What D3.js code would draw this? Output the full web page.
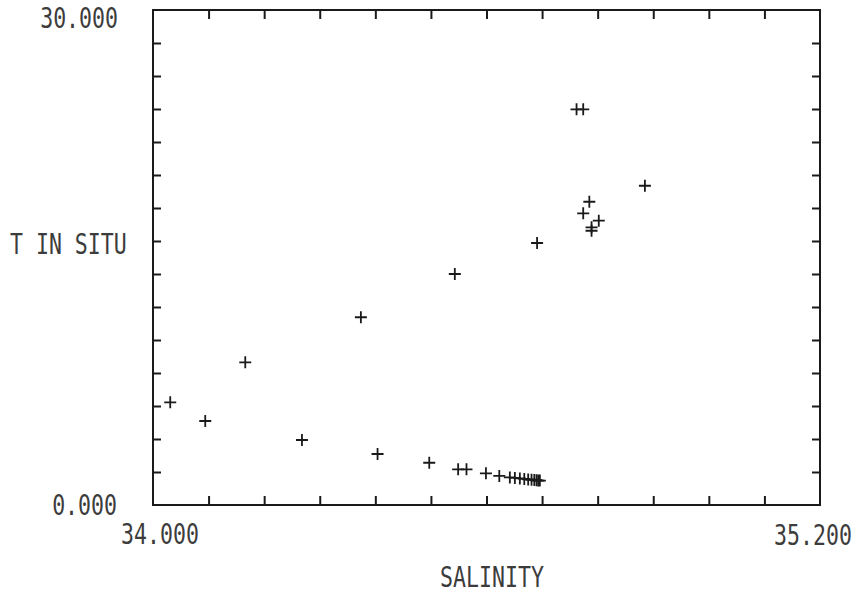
<!DOCTYPE html>
<html>
<head>
<meta charset="utf-8">
<script src="https://cdn.jsdelivr.net/npm/d3@7"></script>
<style>
  html, body { margin: 0; padding: 0; background: #fff; }
  svg { display: block; }
  .lbl { font-family: "DejaVu Sans Mono", "Liberation Mono", monospace; font-size: 28px; fill: #3c3c3c; font-weight: 300; }
</style>
</head>
<body>
<svg id="chart" width="862" height="597"></svg>
<script>
// ---- data ----
const salinity = [34.031, 34.094, 34.166, 34.268, 34.374, 34.404, 34.497, 34.543, 34.549, 34.564,
                  34.599, 34.623, 34.642, 34.651, 34.660, 34.668, 34.675, 34.681, 34.686, 34.690,
                  34.693, 34.696, 34.691, 34.762, 34.774, 34.774, 34.785, 34.802, 34.789, 34.789, 34.885];
const temperature = [6.22, 5.09, 8.65, 3.94, 11.38, 3.09, 2.56, 14.00, 2.16, 2.16,
                     1.92, 1.76, 1.67, 1.64, 1.61, 1.58, 1.55, 1.53, 1.52, 1.50,
                     1.48, 1.48, 15.88, 23.98, 23.98, 17.68, 18.38, 17.23, 16.83, 16.62, 19.35];
const xDomain = [34.0, 35.2];
const yDomain = [0, 30];
const xTickValues = d3.range(12).map(i => 34.0 + i * 0.1).slice(1);
const yTickValues = d3.range(15).map(i => i * 2).slice(1);
const xEndLabels = ["34.000", "35.200"];
const yEndLabels = ["0.000", "30.000"];
const xTitle = "SALINITY";
const yTitle = "T IN SITU";

// ---- layout ----
const svg = d3.select("#chart");
const L = 153, R = 820, T = 10, B = 505;
const x = d3.scaleLinear().domain(xDomain).range([L, R]);
const y = d3.scaleLinear().domain(yDomain).range([B, T]);
const ink = "#1a1a1a";

// ticks
const tk = 9;
svg.append("g").attr("transform", `translate(0,${B})`)
  .call(d3.axisBottom(x).tickValues(xTickValues).tickSize(-tk).tickFormat(""));
svg.append("g").attr("transform", `translate(0,${T})`)
  .call(d3.axisTop(x).tickValues(xTickValues).tickSize(-tk).tickFormat(""));
svg.append("g").attr("transform", `translate(${L},0)`)
  .call(d3.axisLeft(y).tickValues(yTickValues).tickSize(-tk + 1).tickFormat(""));
svg.append("g").attr("transform", `translate(${R},0)`)
  .call(d3.axisRight(y).tickValues(yTickValues).tickSize(-tk + 1).tickFormat(""));
svg.selectAll(".domain").remove();
svg.selectAll(".tick line").attr("stroke", ink).attr("stroke-width", 2);

// frame
svg.append("rect").attr("x", L).attr("y", T).attr("width", R - L).attr("height", B - T)
  .attr("fill", "none").attr("stroke", ink).attr("stroke-width", 2);

// markers
const ms = 6;
const pts = svg.append("g");
salinity.forEach((s, i) => {
  const cx = x(s), cy = y(temperature[i]);
  pts.append("path")
    .attr("d", `M${cx - ms},${cy}H${cx + ms}M${cx},${cy - ms}V${cy + ms}`)
    .attr("stroke", ink).attr("stroke-width", 1.8).attr("fill", "none");
});

// text helper (condensed plotter-like)
const sx = 0.77;
function label(str, px, py, anchor) {
  svg.append("text").attr("class", "lbl")
    .attr("transform", `translate(${px},${py}) scale(${sx},1)`)
    .attr("text-anchor", anchor).attr("dominant-baseline", "central")
    .text(str);
}
label(yEndLabels[0], L - 36, y(yDomain[0]), "end");
label(yEndLabels[1], L - 35, y(yDomain[1]) + 8, "end");
label(xEndLabels[0], x(xDomain[0]) + 7, B + 29, "middle");
label(xEndLabels[1], x(xDomain[1]) - 7, B + 30, "middle");
label(yTitle, 10, y(15.8), "start");
label(xTitle, 492, 577, "middle");
</script>
</body>
</html>
